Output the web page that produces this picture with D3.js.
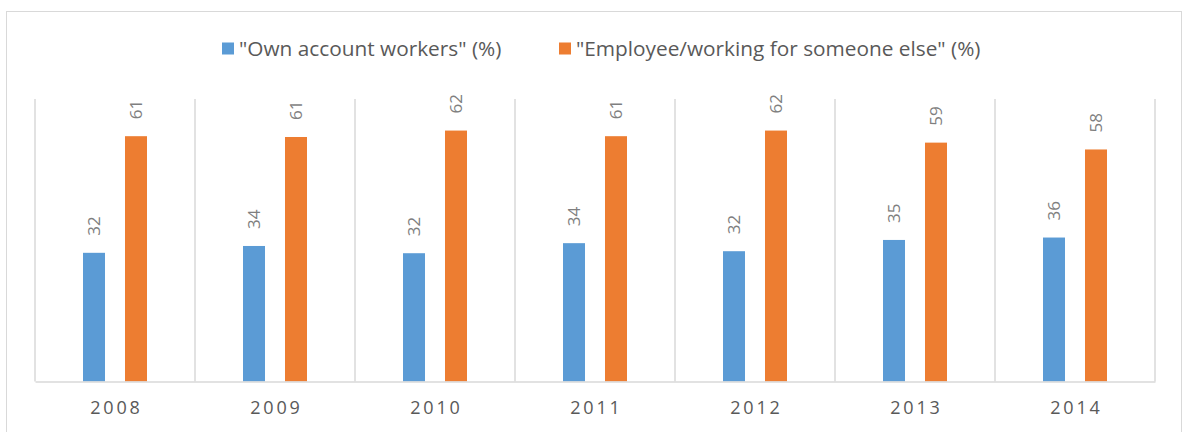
<!DOCTYPE html>
<html>
<head>
<meta charset="utf-8">
<script src="https://cdn.jsdelivr.net/npm/d3@7"></script>
<style>
  body { margin: 0; background: #fff; }
  svg { display: block; }
</style>
</head>
<body>
<svg id="chart" width="1183" height="432"></svg>
<script>
const years = ["2008", "2009", "2010", "2011", "2012", "2013", "2014"];
const series_names = ["\"Own account workers\" (%)", "\"Employee/working for someone else\" (%)"];
const own_account = [32.0, 33.7, 31.9, 34.4, 32.4, 35.2, 35.8];
const employee = [61.0, 60.8, 62.4, 61.0, 62.4, 59.4, 57.7];
const series_colors = ["#5b9bd5", "#ed7d31"];

const svg = d3.select("#chart");
const font = "'Open Sans', 'Liberation Sans', sans-serif";

// outer frame
svg.append("rect")
  .attr("x", 6.5).attr("y", 11.5)
  .attr("width", 1175).attr("height", 440)
  .attr("fill", "none")
  .attr("stroke", "#d9d9d9");

const plot = {left: 35, right: 1155, top: 100, bottom: 381.5};

const x0 = d3.scaleBand()
  .domain(years)
  .range([plot.left, plot.right])
  .padding(0);

const x1 = d3.scaleBand()
  .domain([0, 1])
  .range([0, x0.bandwidth()])
  .paddingInner(0.476)
  .paddingOuter(1.143);

const y = d3.scaleLinear()
  .domain([0, 70])
  .range([plot.bottom, plot.top]);

// category separators
const bounds = years.map(d => x0(d)).concat([plot.right]);
svg.append("g")
  .selectAll("line")
  .data(bounds)
  .join("line")
  .attr("x1", d => d).attr("x2", d => d)
  .attr("y1", plot.top - 1).attr("y2", plot.bottom)
  .attr("stroke", "#d9d9d9")
  .attr("stroke-width", 1.5);

const rows = years.map((yr, i) => ({year: yr, values: [own_account[i], employee[i]]}));

const groups = svg.append("g")
  .selectAll("g")
  .data(rows)
  .join("g")
  .attr("transform", d => `translate(${x0(d.year)},0)`);

groups.selectAll("rect")
  .data(d => d.values.map((v, k) => ({k, v})))
  .join("rect")
  .attr("x", d => x1(d.k))
  .attr("width", x1.bandwidth())
  .attr("y", d => y(d.v))
  .attr("height", d => y(0) - y(d.v))
  .attr("fill", d => series_colors[d.k]);

groups.selectAll("text")
  .data(d => d.values.map((v, k) => ({k, v})))
  .join("text")
  .attr("transform", d =>
    `translate(${x1(d.k) + x1.bandwidth() / 2 + 6},${y(d.v) - 17}) rotate(-90)`)
  .attr("font-family", font)
  .attr("font-size", 17)
  .attr("fill", "#7f7f7f")
  .text(d => Math.round(d.v));

// bottom axis
const xAxis = svg.append("g")
  .attr("transform", `translate(0,${plot.bottom})`)
  .call(d3.axisBottom(x0).tickSize(0).tickPadding(20));
xAxis.select(".domain")
  .attr("stroke", "#d9d9d9")
  .attr("stroke-width", 1.5);
xAxis.selectAll("text")
  .attr("font-family", font)
  .attr("font-size", 18)
  .attr("letter-spacing", "2.8px")
  .attr("fill", "#595959")
  .attr("dx", "1.4px");

// legend
const legend_x = [222, 559];
const legend = svg.append("g")
  .selectAll("g")
  .data(series_names)
  .join("g")
  .attr("transform", (d, i) => `translate(${legend_x[i]},48.5)`);
legend.append("rect")
  .attr("x", 0).attr("y", -6)
  .attr("width", 12).attr("height", 12)
  .attr("fill", (d, i) => series_colors[i]);
legend.append("text")
  .attr("x", 17).attr("y", 0)
  .attr("dy", "0.36em")
  .attr("font-family", font)
  .attr("font-size", 20.8)
  .attr("fill", "#595959")
  .text(d => d);
</script>
</body>
</html>
